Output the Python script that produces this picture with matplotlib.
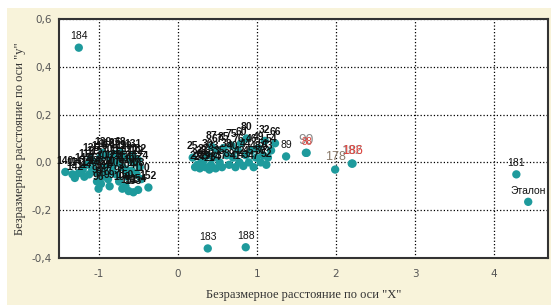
import matplotlib
matplotlib.use('Agg')
import matplotlib.pyplot as plt
import matplotlib.ticker as mtick
from matplotlib.patches import Rectangle

plt.rcParams['axes.unicode_minus'] = False

# cluster 1 (left group)
c1_x = [-1.42, -1.33, -1.30, -1.25, -1.20, -1.18, -1.15, -1.12, -1.08, -1.05,
        -1.02, -1.00, -0.98, -0.97, -0.95, -0.95, -0.92, -0.90, -0.88, -0.86,
        -0.85, -0.83, -0.80, -0.78, -0.76, -0.74, -0.72, -0.70, -0.70, -0.68,
        -0.66, -0.64, -0.62, -0.60, -0.58, -0.56, -0.54, -0.52, -0.50, -0.48,
        -0.46, -0.37, -1.10, -1.03, -0.93, -0.82, -0.75, -0.65, -0.57, -0.50]
c1_y = [-0.040, -0.050, -0.065, -0.045, -0.030, -0.060, -0.010, -0.050, -0.030, 0.000,
        -0.080, -0.110, 0.020, -0.090, -0.060, 0.040, -0.020, 0.030, -0.070, -0.100,
        0.010, -0.040, 0.035, -0.050, 0.000, -0.080, 0.040, -0.020, -0.110, 0.020,
        -0.100, -0.060, -0.120, 0.010, -0.035, -0.125, 0.000, -0.050, -0.115, -0.020,
        -0.070, -0.105, 0.015, -0.040, -0.045, -0.015, 0.025, -0.030, 0.030, 0.010]
c1_lab = ['140', '17', '142', '141', '143', '117', '114', '120', '113', '115',
          '94', '96', '118', '95', '101', '139', '103', '116', '97', '99',
          '105', '107', '27', '109', '111', '98', '68', '112', '100', '119',
          '150', '104', '151', '121', '106', '153', '122', '108', '154', '124',
          '110', '152', '125', '126', '127', '128', '129', '130', '131', '132']

# cluster 2 (middle group)
c2_x = [0.19, 0.22, 0.25, 0.28, 0.30, 0.33, 0.35, 0.38, 0.40, 0.42,
        0.43, 0.45, 0.48, 0.50, 0.53, 0.56, 0.58, 0.62, 0.65, 0.68,
        0.70, 0.73, 0.76, 0.78, 0.80, 0.83, 0.86, 0.87, 0.90, 0.93,
        0.96, 0.99, 1.02, 1.05, 1.08, 1.10, 1.12, 1.14, 1.18, 1.23]
c2_y = [0.020, -0.020, -0.010, -0.025, 0.000, 0.010, -0.020, 0.030, -0.030, -0.010,
        0.065, 0.020, -0.025, 0.050, 0.000, -0.020, 0.060, 0.030, -0.010, 0.070,
        0.020, -0.020, 0.050, 0.000, 0.080, -0.015, 0.030, 0.100, 0.000, 0.050,
        -0.020, 0.020, 0.060, 0.000, 0.030, 0.090, -0.010, 0.020, 0.050, 0.080]
c2_lab = ['25', '23', '26', '24', '28', '22', '29', '30', '21', '31',
          '87', '33', '34', '67', '35', '37', '85', '38', '39', '75',
          '40', '41', '76', '42', '60', '43', '44', '80', '45', '46',
          '47', '48', '49', '50', '51', '32', '52', '53', '54', '66']

# single points
s_x = [-1.25, 0.38, 0.86, 1.37, 4.28, 4.43]
s_y = [0.480, -0.360, -0.355, 0.025, -0.050, -0.165]
s_lab = ['184', '183', '188', '89', '181', 'Эталон']

# overlapping labels near x = 1.6 and x = 2
o_x = [1.62, 1.63, 1.99, 2.20, 2.21]
o_y = [0.040, 0.040, -0.030, -0.005, -0.005]
o_lab = ['90', '88', '178', '182', '186']
o_col = ['#8a8a8a', '#e0403a', '#8a7a6a', '#9a9a9a', '#e0403a']
o_size = [10, 7, 9, 9, 9]

x_ticks = [-1, 0, 1, 2, 3, 4]
y_ticks = [-0.4, -0.2, 0.0, 0.2, 0.4, 0.6]

teal = '#1e9a9c'

fig = plt.figure(figsize=(5.51, 3.05), dpi=100, facecolor='white')
fig.patches.append(Rectangle((7/551, 0), 1, (305-8)/305, transform=fig.transFigure,
                             facecolor='#f8f3da', edgecolor='none', zorder=-10))
ax = fig.add_axes([59/551, 47/305, 489/551, 239/305])
ax.set_facecolor('white')

all_x = c1_x + c2_x + s_x + o_x
all_y = c1_y + c2_y + s_y + o_y
ax.scatter(all_x, all_y, s=36, color=teal, edgecolors='none', zorder=3)

# dense clusters: labels pile up into a dark blob
for x, y, t in zip(c1_x + c2_x, c1_y + c2_y, c1_lab + c2_lab):
    ax.annotate(t, (x, y), xytext=(0, 4.5), textcoords='offset points', ha='center',
                va='bottom', fontsize=7.5, fontweight='bold', color='#111111',
                family='Liberation Sans', zorder=4)
for x, y, t in zip(s_x, s_y, s_lab):
    ax.annotate(t, (x, y), xytext=(0, 4.5), textcoords='offset points', ha='center',
                va='bottom', fontsize=7.5, color='#111111', family='Liberation Sans', zorder=4)
for x, y, t, c, fs in zip(o_x, o_y, o_lab, o_col, o_size):
    ax.annotate(t, (x, y), xytext=(0, 4.5), textcoords='offset points', ha='center',
                va='bottom', fontsize=fs, color=c, family='Liberation Sans', zorder=4)

ax.set_xlim(-1.5, 4.68)
ax.set_ylim(-0.4, 0.6)
ax.set_xticks(x_ticks)
ax.set_yticks(y_ticks)
ax.xaxis.set_major_formatter(mtick.FuncFormatter(lambda v, p: '%d' % v))
ax.yaxis.set_major_formatter(mtick.FuncFormatter(lambda v, p: ('%.1f' % v).replace('.', ',').replace('-0,0', '0,0')))
ax.tick_params(length=0, labelsize=7.5, labelcolor='#555555')
ax.tick_params(axis='x', pad=8)
ax.tick_params(axis='y', pad=5)
ax.grid(True, color='black', linestyle=':', linewidth=0.9)
ax.set_axisbelow(True)
for sp in ax.spines.values():
    sp.set_color('#333333')
    sp.set_linewidth(1.5)

ax.set_xlabel('Безразмерное расстояние по оси "X"', family='Liberation Serif',
              fontsize=9, color='#333333', labelpad=7)
ax.set_ylabel('Безразмерное расстояние по оси "у"', family='Liberation Serif',
              fontsize=9, color='#333333', labelpad=4)

plt.savefig('out.png', dpi=100, facecolor=fig.get_facecolor())
